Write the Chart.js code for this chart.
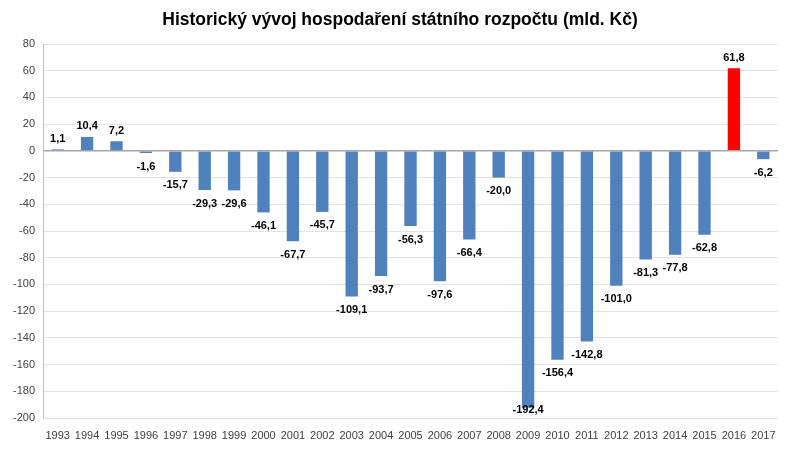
<!DOCTYPE html>
<html>
<head>
<meta charset="utf-8">
<script src="https://cdn.jsdelivr.net/npm/chart.js@4"></script>
<style>
  html, body { margin: 0; padding: 0; background: #fff; }
  #wrap { width: 800px; height: 449px; }
</style>
</head>
<body>
<div id="wrap"><canvas id="c"></canvas></div>
<script>
const titleText = 'Historický vývoj hospodaření státního rozpočtu (mld. Kč)'
const years = ['1993','1994','1995','1996','1997','1998','1999','2000','2001','2002','2003','2004','2005',
  '2006','2007','2008','2009','2010','2011','2012','2013','2014','2015','2016','2017']
const balance = [1.1, 10.4, 7.2, -1.6, -15.7, -29.3, -29.6, -46.1, -67.7, -45.7, -109.1, -93.7, -56.3,
  -97.6, -66.4, -20.0, -192.4, -156.4, -142.8, -101.0, -81.3, -77.8, -62.8, 61.8, -6.2]
const highlightYear = '2016'

const barColors = years.map(y => y === highlightYear ? '#ff0000' : '#4f81bd')
const fontFamily = "'Liberation Sans', Arial, sans-serif"

// title + value labels drawn by hand (no datalabels plugin offline)
const labelsPlugin = {
  id: 'labels',
  afterDatasetsDraw(chart) {
    const ctx = chart.ctx
    const meta = chart.getDatasetMeta(0)
    const area = chart.chartArea
    ctx.save()
    ctx.font = 'bold 11px ' + fontFamily
    ctx.fillStyle = '#000'
    ctx.textAlign = 'center'
    meta.data.forEach((bar, i) => {
      const v = balance[i]
      const txt = v.toFixed(1).replace('.', ',')
      if (v >= 0) {
        ctx.textBaseline = 'bottom'
        ctx.fillText(txt, bar.x, bar.y - 5)
      } else {
        ctx.textBaseline = 'top'
        ctx.fillText(txt, bar.x, Math.min(bar.y + 8, area.bottom - 14))
      }
    })
    ctx.font = 'bold 17.5px ' + fontFamily
    ctx.textBaseline = 'middle'
    ctx.fillStyle = '#000'
    ctx.fillText(titleText, chart.width / 2, 20)
    ctx.restore()
  }
}

new Chart(document.getElementById('c'), {
  type: 'bar',
  data: {
    labels: years,
    datasets: [{
      data: balance,
      backgroundColor: barColors,
      borderWidth: 0,
      barPercentage: 0.42,
      categoryPercentage: 1
    }]
  },
  options: {
    responsive: true,
    maintainAspectRatio: false,
    animation: false,
    layout: { padding: { top: 44, right: 22, left: 0, bottom: 0 } },
    plugins: {
      legend: { display: false },
      tooltip: { enabled: false },
      title: { display: false }
    },
    scales: {
      x: {
        grid: { display: false },
        border: { display: false },
        ticks: { color: '#404040', font: { family: fontFamily, size: 11 }, maxRotation: 0, padding: 3 },
        afterFit(scale) { scale.height = 31 }
      },
      y: {
        min: -200,
        max: 80,
        ticks: { stepSize: 20, color: '#404040', font: { family: fontFamily, size: 11 }, padding: 8 },
        grid: {
          color: ctx => ctx.tick && ctx.tick.value === 0 ? '#a6a6a6' : '#e3e3e3',
          lineWidth: ctx => ctx.tick && ctx.tick.value === 0 ? 1.5 : 1,
          drawTicks: false
        },
        border: { color: '#bfbfbf' },
        afterFit(scale) { scale.width = 43 }
      }
    }
  },
  plugins: [labelsPlugin]
})
</script>
</body>
</html>
